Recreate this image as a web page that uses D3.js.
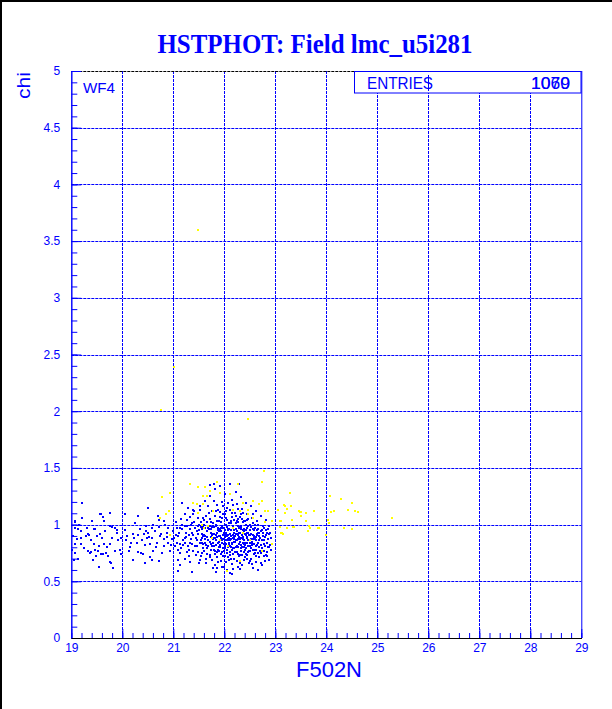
<!DOCTYPE html>
<html><head><meta charset="utf-8">
<script src="https://cdn.jsdelivr.net/npm/d3@7"></script>
<style>body{margin:0;background:#fff}svg{display:block}</style>
</head><body>
<svg id="c" width="612" height="709"></svg>
<script>
const title = "HSTPHOT: Field lmc_u5i281";
const xLabel = "F502N";
const yLabel = "chi";
const panelLabel = "WF4";
const statName = "ENTRIES";
const statValues = ["1060", "1079"];
const xDomain = [19, 29];
const yDomain = [0, 5];
const xTickValues = [19,20,21,22,23,24,25,26,27,28,29];
const xTickLabels = ["19","20","21","22","23","24","25","26","27","28","29"];
const yTickValues = [0,0.5,1,1.5,2,2.5,3,3.5,4,4.5,5];
const yTickLabels = ["0","0.5","1","1.5","2","2.5","3","3.5","4","4.5","5"];

// blue points [F502N, chi]
const bluePoints = [
[19.21,1.19],[19.07,1.03],[19.21,1.06],[19.59,1.09],[19.62,1.07],[19.76,1.10],[19.41,1.03],[19.65,1.03],[19.75,0.99],
[19.08,0.97],[19.2,0.94],[19.31,0.97],[19.46,0.96],[19.56,0.92],[19.67,0.94],[19.79,0.98],[19.85,0.97],[19.89,0.93],
[19.33,0.92],[19.19,0.88],[19.07,0.83],[19.45,0.83],[19.54,0.81],[19.65,0.83],[19.76,0.83],[19.92,0.86],[19.98,0.88],
[20.1,0.9],[20.21,0.92],[20.31,0.91],[20.43,0.92],[20.47,0.94],[20.08,0.86],[20.18,0.84],[20.28,0.84],[20.38,0.86],
[19.33,0.77],[19.37,0.75],[19.59,0.74],[19.69,0.75],[19.72,0.72],[19.85,0.77],[19.97,0.74],[20.13,0.77],[20.21,0.69],
[20.31,0.76],[20.36,0.75],[20.44,0.66],[19.07,0.75],[19.78,0.66],[19.82,0.62],[19.54,0.63],[19.14,0.70],[19.46,0.78],
[20.06,1.09],[20.31,1.08],[20.47,0.99],
[19.08,1.02],[19.14,0.96],[19.34,0.91],[19.44,0.96],[19.19,0.83],[19.39,0.76],[19.05,0.69],[19.49,0.72],[19.63,0.74],
[19.76,0.67],[19.81,0.62],[19.55,0.63],[19.57,1.09],[19.75,1.10],
[21.17,1.19],[21.23,1.09],[21.33,1.07],[21.39,1.09],[21.48,1.06],[21.52,1.16],[20.71,1.04],[20.81,1.03],[20.84,1.0],
[20.9,0.97],[20.71,0.98],[20.58,0.97],[20.64,0.94],[20.51,0.93],[21.0,0.94],[21.07,0.97],[21.17,0.96],[21.26,0.99],
[21.36,1.01],[21.43,0.97],[21.5,1.0],[21.56,0.96],[20.48,0.88],[20.59,0.88],[20.74,0.9],[20.87,0.89],[20.97,0.87],
[21.1,0.9],[21.22,0.88],[21.31,0.91],[21.39,0.91],[21.49,0.92],[21.59,0.9],[20.55,0.83],[20.68,0.84],[20.81,0.81],
[20.9,0.84],[21.04,0.81],[21.13,0.83],[21.23,0.84],[21.36,0.83],[21.46,0.81],[21.56,0.84],[20.61,0.77],[20.77,0.75],
[20.94,0.77],[21.13,0.75],[21.3,0.78],[21.49,0.76],[20.58,0.69],[20.72,0.68],[21.1,0.69],[21.23,0.70],[21.33,0.67],
[21.5,0.66],[21.13,0.64],[21.1,0.59],[21.36,0.58],
[21.52,1.13],[21.55,1.02],[21.51,0.95],[21.57,0.88],[21.53,0.84],[21.58,0.79],[21.54,0.72],[21.56,0.92],[21.59,0.98],[21.52,0.69],
[21.62,1.21],[21.64,1.08],[21.61,1.0],[21.66,0.94],[21.63,0.9],[21.68,0.86],[21.65,0.82],[21.61,0.77],[21.67,0.74],[21.64,0.66],[21.69,0.97],[21.62,0.87],
[21.72,1.25],[21.75,1.12],[21.71,1.05],[21.77,1.01],[21.73,0.96],[21.78,0.92],[21.74,0.89],[21.71,0.85],[21.76,0.81],[21.79,0.78],[21.72,0.73],[21.75,0.69],[21.78,0.62],[21.73,0.93],[21.77,0.87],
[21.82,1.31],[21.85,1.17],[21.81,1.08],[21.86,1.03],[21.83,0.99],[21.88,0.95],[21.84,0.91],[21.81,0.88],[21.87,0.84],[21.89,0.8],[21.82,0.77],[21.85,0.71],[21.88,0.67],[21.84,0.58],[21.86,0.93],[21.83,0.86],[21.89,0.9],
[21.92,1.34],[21.95,1.2],[21.91,1.11],[21.96,1.06],[21.93,1.02],[21.98,0.97],[21.94,0.94],[21.91,0.9],[21.97,0.87],[21.99,0.83],[21.92,0.8],[21.95,0.76],[21.98,0.72],[21.94,0.68],[21.96,0.63],[21.93,0.88],[21.99,0.92],[21.91,0.96],
[22.02,1.27],[22.05,1.15],[22.01,1.09],[22.06,1.04],[22.03,1.0],[22.08,0.96],[22.04,0.93],[22.01,0.89],[22.07,0.86],[22.09,0.82],[22.02,0.79],[22.05,0.75],[22.08,0.71],[22.04,0.67],[22.06,0.6],[22.03,0.91],[22.09,0.88],[22.01,0.84],[22.07,0.95],[22.05,0.98],
[22.12,1.36],[22.15,1.22],[22.11,1.13],[22.16,1.07],[22.13,1.03],[22.18,0.99],[22.14,0.95],[22.11,0.92],[22.17,0.88],[22.19,0.85],[22.12,0.81],[22.15,0.78],[22.18,0.74],[22.14,0.7],[22.16,0.65],[22.13,0.9],[22.19,0.93],[22.11,0.86],[22.17,0.97],[22.15,0.83],[22.12,0.57],
[22.22,1.29],[22.25,1.18],[22.21,1.1],[22.26,1.05],[22.23,1.01],[22.28,0.97],[22.24,0.94],[22.21,0.9],[22.27,0.87],[22.29,0.83],[22.22,0.8],[22.25,0.76],[22.28,0.72],[22.24,0.68],[22.26,0.63],[22.23,0.92],[22.29,0.89],[22.21,0.85],[22.27,0.99],[22.25,0.81],
[22.32,1.24],[22.35,1.14],[22.31,1.07],[22.36,1.02],[22.33,0.98],[22.38,0.94],[22.34,0.91],[22.31,0.87],[22.37,0.84],[22.39,0.8],[22.32,0.77],[22.35,0.73],[22.38,0.69],[22.34,0.64],[22.36,0.89],[22.33,0.82],[22.39,0.96],[22.31,0.93],
[22.42,1.19],[22.45,1.09],[22.41,1.03],[22.46,0.99],[22.43,0.95],[22.48,0.91],[22.44,0.88],[22.41,0.84],[22.47,0.81],[22.49,0.77],[22.42,0.74],[22.45,0.7],[22.48,0.66],[22.44,0.93],[22.46,0.86],[22.43,0.79],
[22.52,1.16],[22.55,1.06],[22.51,1.0],[22.56,0.96],[22.53,0.92],[22.58,0.88],[22.54,0.85],[22.51,0.81],[22.57,0.78],[22.59,0.74],[22.52,0.7],[22.55,0.65],[22.58,0.9],[22.54,0.83],
[22.62,1.12],[22.65,1.03],[22.61,0.97],[22.66,0.93],[22.63,0.89],[22.68,0.86],[22.64,0.82],[22.61,0.78],[22.67,0.75],[22.69,0.71],[22.62,0.67],[22.66,0.6],[22.64,0.91],
[22.72,1.08],[22.75,0.99],[22.71,0.94],[22.76,0.9],[22.73,0.86],[22.78,0.83],[22.74,0.79],[22.71,0.75],[22.77,0.72],[22.79,0.68],[22.73,0.64],
[22.82,1.04],[22.85,0.96],[22.81,0.91],[22.86,0.87],[22.83,0.84],[22.88,0.8],[22.84,0.76],[22.81,0.73],[22.87,0.69],
[22.9,0.93],[22.91,0.88],[22.89,0.82],[22.92,0.78],
[21.85,0.62],[22.16,0.56],[22.18,0.61],[22.57,0.62],[22.31,0.66],[21.8,1.36],[21.72,1.35],[22.29,1.36],[21.52,1.16],[21.39,1.13],
[21.6,0.91],[21.63,0.84],[21.66,0.79],[21.7,0.96],[21.74,0.83],[21.76,0.98],[21.8,0.92],[21.8,0.81],[21.84,1.0],[21.86,0.76],
[21.9,0.94],[21.9,0.85],[21.93,0.74],[21.96,0.99],[21.97,0.91],[22.0,0.87],[22.0,0.77],[22.03,1.06],[22.04,0.83],[22.06,0.9],
[22.08,0.8],[22.1,0.96],[22.1,0.87],[22.12,0.76],[22.14,1.01],[22.16,0.84],[22.18,0.91],[22.2,0.79],[22.2,0.95],[22.22,0.86],
[22.24,1.03],[22.26,0.74],[22.27,0.91],[22.3,0.85],[22.3,0.98],[22.32,0.79],[22.34,1.05],[22.36,0.87],[22.38,0.76],[22.4,0.92],
[22.4,0.82],[22.43,1.0],[22.45,0.89],[22.47,0.76],[22.5,0.95],[22.5,0.84],[22.53,0.79],[22.56,0.91],[22.58,0.83],[22.6,1.0],
[22.6,0.75],[22.63,0.86],[22.66,0.96],[22.68,0.8],[22.7,0.88],[22.72,0.82],[22.75,0.93],[22.78,0.77],[22.8,0.89],[22.84,0.93],
[21.58,1.06],[21.68,1.16],[21.79,1.21],[21.87,1.13],[21.97,1.16],[22.07,1.19],[22.17,1.17],[22.27,1.14],[22.37,1.1],[22.47,1.05],
[22.57,1.09],[22.67,1.0],[22.77,0.97],[22.87,0.99],[21.65,0.7],[21.82,0.64],[22.0,0.63],[22.1,0.69],[22.2,0.7],[22.3,0.61],
[22.4,0.71],[22.5,0.68],[22.62,0.72],[22.72,0.66],[22.83,0.72],[21.73,0.78],[21.92,1.07],[22.02,0.72],[22.22,1.08],[22.44,0.97],
[22.64,0.95],[22.76,0.86],
[21.02,0.88],[21.05,1.02],[21.08,0.84],[21.12,0.93],[21.15,0.79],[21.18,1.0],[21.2,0.86],[21.25,0.93],[21.28,0.81],[21.32,0.96],
[21.35,0.87],[21.38,0.77],[21.41,1.02],[21.44,0.88],[21.47,0.94],[21.45,0.73],[21.3,0.72],[21.22,0.99],[21.4,1.12],[21.28,1.15],[21.15,1.05],
[20.05,0.95],[20.15,0.8],[20.22,0.88],[20.35,0.96],[20.45,0.82],[20.52,0.89],[20.6,1.0],[20.66,0.8],[20.75,0.92],[20.82,0.87],
[20.88,0.93],[20.95,0.82],[20.4,0.74],[20.55,0.71],[20.7,1.08],[20.25,1.01],[19.95,0.78],[20.5,1.15],
[19.03,0.9],[19.12,0.87],[19.25,0.79],[19.28,0.9],[19.38,0.86],[19.5,0.9],[19.52,0.77],[19.6,0.88],[19.7,0.8],[19.8,0.88],
[19.9,0.95],[19.42,0.69],[19.02,0.78],[19.15,1.0],
[21.54,0.86],[21.57,0.75],[21.6,1.04],[21.63,0.97],[21.67,0.89],[21.69,0.81],[21.7,1.1],[21.71,0.71],[21.74,1.02],[21.76,0.91],
[21.78,0.84],[21.8,0.98],[21.81,0.74],[21.83,1.12],[21.85,0.89],[21.87,0.97],[21.88,0.78],[21.9,1.03],[21.91,0.82],[21.93,0.97],
[21.95,0.86],[21.97,0.79],[21.98,1.09],[22.0,0.93],[22.01,0.81],[22.03,0.86],[22.04,1.12],[22.06,0.78],[22.07,0.91],[22.09,1.01],
[22.1,0.84],[22.11,0.73],[22.13,0.95],[22.14,0.87],[22.16,1.1],[22.17,0.79],[22.19,0.89],[22.2,1.04],[22.21,0.76],[22.23,0.96],
[22.24,0.86],[22.26,0.8],[22.27,1.02],[22.29,0.93],[22.3,0.73],[22.32,0.88],[22.33,1.09],[22.35,0.8],[22.36,0.95],[22.38,0.86],
[22.39,1.03],[22.41,0.78],[22.42,0.91],[22.44,0.84],[22.45,1.04],[22.47,0.93],[22.49,0.86],[22.5,0.77],[22.52,0.98],[22.53,0.87],
[22.55,0.82],[22.56,1.01],[22.58,0.78],[22.59,0.95],[22.61,0.87],[22.63,0.81],[22.65,0.92],[22.67,0.84],[22.69,0.9],[22.7,0.77],
[22.74,0.95],[22.77,0.86],[22.8,0.81],[22.82,0.95],[22.85,0.8],[22.88,0.92],[21.55,0.98],[21.58,0.83],[21.66,1.02],[21.72,0.99],
[21.79,0.88],[21.84,0.82],[21.9,0.77],[21.96,0.84],[22.02,0.95],[22.08,0.87],[22.14,0.8],[22.2,0.87],[22.26,0.92],[22.32,0.96],
[22.38,0.83],[22.44,0.73],[22.5,0.91],[22.56,0.87],[22.62,0.78],[22.68,0.93],
[21.05,0.91],[21.1,0.78],[21.14,0.97],[21.19,0.82],[21.24,0.89],[21.27,0.76],[21.33,0.84],[21.37,0.93],[21.42,0.81],[21.46,0.86],
[21.48,0.99],[21.26,1.04],[21.34,1.0]
];

// yellow points [F502N, chi]
const yellowPoints = [
[23.29,1.28],[23.17,1.17],[23.22,1.14],[23.31,1.16],[23.19,1.10],[23.12,1.03],[23.33,1.04],[23.46,1.12],[23.5,1.11],
[23.51,1.08],[23.6,1.10],[23.6,1.03],[23.76,1.12],[23.66,0.99],[23.36,0.98],[23.22,0.97],[23.14,0.93],[23.65,0.94],
[23.85,0.97],[24.04,1.04],[24.08,1.25],[24.28,1.23],[24.5,1.19],[24.43,1.13],[24.56,1.12],[24.63,1.11],[24.09,1.11],
[24.15,1.12],[24.05,1.01],[24.34,0.97],[24.5,0.96],[24.0,0.91],[25.29,1.06],
[22.78,1.47],[22.73,1.38],[22.27,1.36],[21.85,1.38],[21.66,1.25],[22.11,1.27],[21.92,1.28],[22.37,1.19],[22.57,1.21],
[22.73,1.21],[22.68,1.18],[22.47,1.13],[22.31,1.12],[22.18,1.13],[21.78,1.12],[22.8,1.12],[22.86,1.12],[23.06,1.13],
[23.19,1.16],[22.93,1.03],[22.8,1.02],[23.09,1.03],[22.47,1.09],[22.57,1.06],[22.93,0.83],[22.73,0.77],[23.15,0.92],
[23.22,0.97],[23.09,0.98],[23.68,0.97],[23.84,0.97],[22.31,0.68],[22.05,0.59],[21.69,0.99],[21.75,0.88],[22.18,0.97],
[22.37,0.93],[21.92,0.86],[22.08,0.81],[22.5,0.86],[21.62,1.33],[21.72,1.30],[21.59,1.18],
[21.33,1.36],[21.49,1.33],[20.77,1.24],[20.94,1.28],[20.92,1.12],[20.85,1.09],[20.74,1.06],[21.59,1.25],[21.39,1.19],
[21.46,1.18],[21.49,1.10],[21.56,1.0],[20.94,0.91],[21.61,0.97],
[23.48,1.11],[23.61,1.10],[23.35,0.98],[23.64,0.94],[23.12,0.93],
[21.49,3.60],[21.02,2.39],[20.75,2.01],[22.46,1.93]
];

const W = 612, H = 709;
const BLUE = "#0000ff", YEL = "#ffff00";
const svg = d3.select("#c");
const FONT = "'Liberation Sans', Arial, Helvetica, sans-serif";

svg.append("rect").attr("width", W).attr("height", H).attr("fill", "#fff");
svg.append("line").attr("x1",1).attr("x2",1).attr("y1",0).attr("y2",H).attr("stroke","#000").attr("stroke-width",2);
svg.append("line").attr("x1",0).attr("x2",W).attr("y1",1).attr("y2",1).attr("stroke","#000").attr("stroke-width",2);

const L = 71.3, R = 581.3, T = 71, B = 638;
const x = d3.scaleLinear().domain(xDomain).range([L, R]);
const y = d3.scaleLinear().domain(yDomain).range([B, T]);

// grid
const grid = svg.append("g").attr("stroke", BLUE).attr("stroke-width", 1).attr("stroke-dasharray", "3,1");
grid.selectAll("line.v").data(xTickValues.slice(1, -1)).join("line")
  .attr("x1", d => Math.round(x(d)) + 0.5).attr("x2", d => Math.round(x(d)) + 0.5)
  .attr("y1", T).attr("y2", B);
grid.selectAll("line.h").data(yTickValues.slice(1, -1)).join("line")
  .attr("y1", d => Math.round(y(d)) + 0.5).attr("y2", d => Math.round(y(d)) + 0.5)
  .attr("x1", L).attr("x2", R);

svg.append("line").attr("x1", L).attr("x2", R).attr("y1", T + 0.5).attr("y2", T + 0.5)
  .attr("stroke", "#000").attr("stroke-dasharray", "3,1");
svg.append("line").attr("x1", R + 0.5).attr("x2", R + 0.5).attr("y1", T).attr("y2", B)
  .attr("stroke", BLUE);

// points
svg.append("g").selectAll("rect").data(bluePoints).join("rect")
  .attr("x", d => Math.round(x(d[0])) - 1).attr("y", d => Math.round(y(d[1])) - 1)
  .attr("width", 2).attr("height", 2).attr("fill", BLUE);
svg.append("g").selectAll("rect").data(yellowPoints).join("rect")
  .attr("x", d => Math.round(x(d[0])) - 1).attr("y", d => Math.round(y(d[1])) - 1)
  .attr("width", 2).attr("height", 2).attr("fill", YEL);

// axes
const yMinor = d3.range(0, 50.01, 1).map(v => v / 10);
const xMinor = d3.range(0, 50.01, 1).map(v => 19 + v / 5);

const yAxisMinor = svg.append("g").attr("transform", `translate(${L},0)`)
  .call(d3.axisLeft(y).tickValues(yMinor).tickSizeInner(-6).tickSizeOuter(0).tickFormat(""));
const yAxis = svg.append("g").attr("transform", `translate(${L},0)`)
  .call(d3.axisLeft(y).tickValues(yTickValues).tickSizeInner(-10).tickSizeOuter(0).tickPadding(11)
    .tickFormat((d, i) => yTickLabels[i]));
[yAxisMinor, yAxis].forEach(g => {
  g.selectAll("path").attr("stroke", BLUE);
  g.selectAll("line").attr("stroke", BLUE);
});
yAxis.selectAll("text").attr("fill", BLUE).style("font-family", FONT).style("font-size", "12px");

const xAxisMinor = svg.append("g").attr("transform", `translate(0,${B})`)
  .call(d3.axisBottom(x).tickValues(xMinor).tickSizeInner(-5).tickSizeOuter(0).tickFormat(""));
const xAxis = svg.append("g").attr("transform", `translate(0,${B})`)
  .call(d3.axisBottom(x).tickValues(xTickValues).tickSizeInner(-9).tickSizeOuter(0).tickPadding(5)
    .tickFormat((d, i) => xTickLabels[i]));
[xAxisMinor, xAxis].forEach(g => {
  g.selectAll("line").attr("stroke", BLUE);
  g.selectAll("path").attr("stroke", "#000");
});
xAxis.selectAll("text").attr("fill", BLUE).style("font-family", FONT).style("font-size", "12px");

// title
svg.append("text").attr("x", 315).attr("y", 53).attr("text-anchor", "middle")
  .attr("fill", BLUE).style("font-family", "'Liberation Serif', 'Times New Roman', serif")
  .style("font-weight", "bold").style("font-size", "27px")
  .attr("textLength", 315).attr("lengthAdjust", "spacingAndGlyphs").text(title);

// axis titles
svg.append("text").attr("x", 329).attr("y", 677).attr("text-anchor", "middle")
  .attr("fill", BLUE).style("font-family", FONT).style("font-size", "22px")
  .attr("textLength", 66).attr("lengthAdjust", "spacingAndGlyphs").text(xLabel);
svg.append("text").attr("transform", "translate(30,72) rotate(-90)").attr("text-anchor", "end")
  .attr("fill", BLUE).style("font-family", FONT).style("font-size", "18px")
  .attr("textLength", 27).attr("lengthAdjust", "spacingAndGlyphs").text(yLabel);

// panel label
svg.append("text").attr("x", 83).attr("y", 93).attr("fill", BLUE)
  .style("font-family", FONT).style("font-size", "15px")
  .attr("textLength", 32).attr("lengthAdjust", "spacingAndGlyphs").text(panelLabel);

// stats box
svg.append("rect").attr("x", 354.5).attr("y", 71.5).attr("width", 226.5).attr("height", 21.5)
  .attr("fill", "#fff").attr("stroke", BLUE);
svg.append("text").attr("x", 367).attr("y", 89).attr("fill", BLUE)
  .style("font-family", FONT).style("font-size", "16px")
  .attr("textLength", 66).attr("lengthAdjust", "spacingAndGlyphs").text(statName);
// overstruck "$" stroke through the final S, as in the reference
svg.append("line").attr("x1", 428.5).attr("x2", 428.5).attr("y1", 75).attr("y2", 91)
  .attr("stroke", BLUE).attr("stroke-width", 1);
statValues.forEach(v => {
  svg.append("text").attr("x", 570).attr("y", 89).attr("text-anchor", "end").attr("fill", BLUE)
    .style("font-family", FONT).style("font-size", "16px")
    .attr("textLength", 39).attr("lengthAdjust", "spacingAndGlyphs").text(v);
});
</script>
</body></html>
